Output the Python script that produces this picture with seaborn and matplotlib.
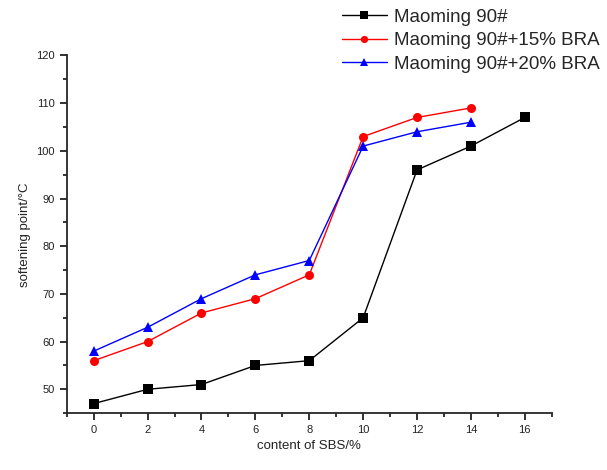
import seaborn as sns
import pandas as pd
import matplotlib.pyplot as plt
from matplotlib.ticker import MultipleLocator

# content of SBS (%) and softening points
sbs = [0, 2, 4, 6, 8, 10, 12, 14, 16]
maoming = [47, 50, 51, 55, 56, 65, 96, 101, 107]
sbs_bra = [0, 2, 4, 6, 8, 10, 12, 14]
bra15 = [56, 60, 66, 69, 74, 103, 107, 109]
bra20 = [58, 63, 69, 74, 77, 101, 104, 106]

names = ["Maoming 90#", "Maoming 90#+15% BRA", "Maoming 90#+20% BRA"]

data = pd.concat([
    pd.DataFrame({"sbs": sbs, "soft": maoming, "series": names[0]}),
    pd.DataFrame({"sbs": sbs_bra, "soft": bra15, "series": names[1]}),
    pd.DataFrame({"sbs": sbs_bra, "soft": bra20, "series": names[2]}),
], ignore_index=True)

sns.set_style("ticks")
plt.rcParams['font.family'] = ['Liberation Sans', 'DejaVu Sans']

fig = plt.figure(figsize=(6.07, 4.70), dpi=100)
ax = fig.add_axes([0.110, 0.121, 0.799, 0.761])

sns.lineplot(data=data, x="sbs", y="soft", hue="series", style="series",
             palette={names[0]: "black", names[1]: "red", names[2]: "blue"},
             markers={names[0]: "s", names[1]: "o", names[2]: "^"},
             dashes=False, markersize=6.5, markeredgewidth=0, linewidth=1,
             ax=ax, legend=True)

ax.set_xlim(-1, 17)
ax.set_ylim(45, 120)
ax.xaxis.set_major_locator(MultipleLocator(2))
ax.xaxis.set_minor_locator(MultipleLocator(1))
ax.yaxis.set_major_locator(MultipleLocator(10))
ax.yaxis.set_minor_locator(MultipleLocator(5))
ax.set_yticks(range(50, 121, 10))
ax.tick_params(which="major", length=5, width=1.3, labelsize=8, colors="#222222")
ax.tick_params(which="minor", length=3, width=1.3)
for s in ["left", "bottom"]:
    ax.spines[s].set_linewidth(1.3)
sns.despine(ax=ax)

ax.set_xlabel("content of SBS/%", fontsize=9.5, color="#222222")
ax.set_ylabel("softening point/°C", fontsize=9.5, color="#222222")

handles, labels = ax.get_legend_handles_labels()
ax.legend_.remove()
fig.legend(handles, labels, loc="upper left", bbox_to_anchor=(0.563, 0.981),
           frameon=False, fontsize=13.5, handlelength=2.4, handletextpad=0.37,
           labelspacing=0.33, borderaxespad=0, borderpad=0, markerscale=0.8)

fig.savefig("out.png", dpi=100)
